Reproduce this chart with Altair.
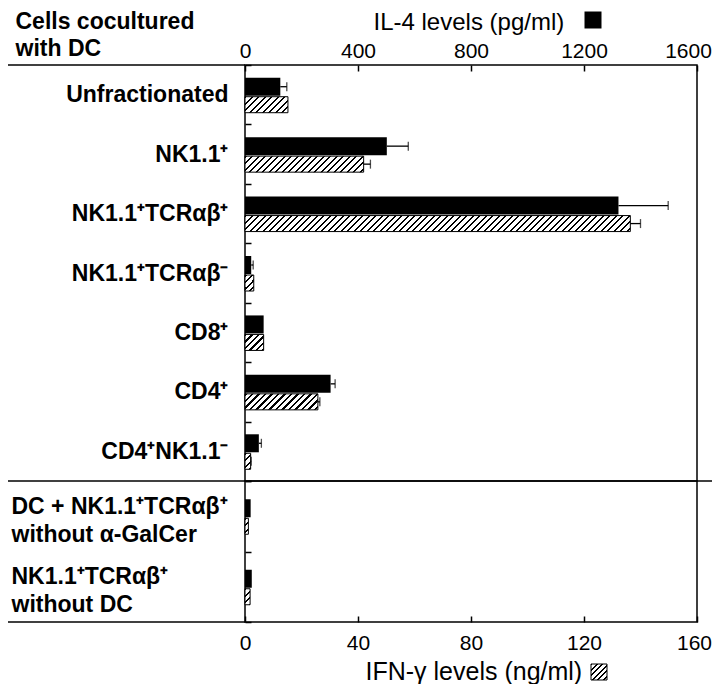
import altair as alt
import pandas as pd

# ---------------- data ----------------
cats_top = ["Unfractionated", "NK1.1⁺", "NK1.1⁺TCRαβ⁺", "NK1.1⁺TCRαβ⁻",
            "CD8⁺", "CD4⁺", "CD4⁺NK1.1⁻"]
cats_bot = ["DC + NK1.1⁺TCRαβ⁺\nwithout α-GalCer", "NK1.1⁺TCRαβ⁺\nwithout DC"]

il4_top = [125, 502, 1322, 22, 66, 303, 49]          # pg/ml (black bars)
il4_top_err = [23, 76, 176, 7, 0, 16, 9]
ifn_top = [15.2, 42.0, 136.4, 3.1, 6.6, 25.8, 2.0]   # ng/ml (hatched bars)
ifn_top_err = [0, 2.4, 3.6, 0, 0, 0.7, 0.2]

il4_bot = [20, 24]
il4_bot_err = [0, 0]
ifn_bot = [1.2, 1.8]
ifn_bot_err = [0, 0]

il4_ticks = [0, 400, 800, 1200, 1600]
ifn_ticks = [0, 40, 80, 120, 160]

# ---------------- layout constants ----------------
W = 452
H_TOP = 416
H_BOT = 141
PAD_L = 237
PAD_R = 15
PAD_T = 57
SVG_H = 676
FONT = "Liberation Sans"
LW = 1.5


def make_df(cats, il4, il4e, ifn, ifne):
    return pd.DataFrame({
        "idx": list(range(len(cats))),
        "cat": cats,
        "il4s": [v / 10 for v in il4],
        "il4_hi": [(v + e) / 10 for v, e in zip(il4, il4e)],
        "il4_err": il4e,
        "ifn": ifn,
        "ifn_hi": [v + e for v, e in zip(ifn, ifne)],
        "ifn_err": ifne,
    })


def hatch(w, h, period=6.5, thick=2.2):
    """Linear gradient that draws '/' stripes at 45 degrees on a w x h box."""
    w = max(w, 0.5)
    L = w + h
    n2 = w * w + h * h
    stops = []
    k = 0
    while k * period < L:
        a = k * period / L
        b = min((k * period + thick) / L, 1.0)
        nxt = min((k + 1) * period / L, 1.0)
        stops += [{"offset": a, "color": "black"},
                  {"offset": b, "color": "black"},
                  {"offset": b, "color": "white"},
                  {"offset": nxt, "color": "white"}]
        k += 1
    return {"gradient": "linear", "x1": 0, "y1": 0,
            "x2": L * w / n2, "y2": L * h / n2, "stops": stops}


xscale = alt.Scale(domain=[0, 160], nice=False, zero=True)

grid_props = dict(grid=True, gridDash=[6, 1000], gridColor="black",
                  gridWidth=LW, gridOpacity=1, ticks=False, tickSize=0,
                  domain=False)

xaxis_top = alt.Axis(
    orient="top", values=[v / 10 for v in il4_ticks],
    labelExpr="format(datum.value * 10, 'd')",
    title="IL-4 levels (pg/ml)", titleX=128, titleY=-36, titleAlign="left",
    titleBaseline="alphabetic", titleFontSize=24, titleFontWeight="normal",
    titleFont=FONT, titleColor="black",
    labelFont=FONT, labelFontSize=21, labelColor="black",
    labelBaseline="alphabetic", labelPadding=8, labelFlush=False,
    labelOverlap=False,
    labelOffset={"condition": {"test": "datum.value === 160", "value": -9}, "value": 0},
    **grid_props)

xaxis_bot = alt.Axis(
    orient="bottom", values=ifn_ticks,
    title="IFN-γ levels (ng/ml)", titleX=120, titleY=57, titleAlign="left",
    titleBaseline="alphabetic", titleFontSize=25, titleFontWeight="normal",
    titleFont=FONT, titleColor="black",
    labelFont=FONT, labelFontSize=21, labelColor="black",
    labelBaseline="alphabetic", labelPadding=27, labelFlush=False,
    labelOverlap=False,
    labelOffset={"condition": {"test": "datum.value === 160", "value": -3}, "value": 0},
    **grid_props)

yaxis_top = alt.Axis(
    title=["Cells cocultured", "with DC"], titleAngle=0, titleAlign="left",
    titleBaseline="alphabetic", titleX=-230, titleY=-37, titleFontSize=23,
    titleFontWeight="bold", titleFont=FONT, titleColor="black",
    titleLineHeight=27,
    labelFont=FONT, labelFontSize=23, labelFontWeight="bold",
    labelColor="black", labelPadding=17, labelLimit=400,
    labelExpr="split(datum.label, '\\n')", tickBand="extent",
    **grid_props)

yaxis_bot = alt.Axis(
    title=None, labelFont=FONT, labelFontSize=23, labelFontWeight="bold",
    labelColor="black", labelAlign="left", labelPadding=234, labelLimit=400,
    labelLineHeight=28, labelOffset=-3, labelBaseline="alphabetic",
    labelExpr="split(datum.label, '\\n')", tickBand="extent",
    **grid_props)


def panel(df, cats, h, xaxis, yaxis, deco_layers):
    y = alt.Y("cat:N", sort=cats,
              scale=alt.Scale(paddingInner=0, paddingOuter=0), axis=yaxis)
    base = alt.Chart(df)
    layers = []
    # black bars (IL-4)
    layers.append(base.mark_bar(height=18, yOffset=-8, color="black").encode(
        x=alt.X("il4s:Q", scale=xscale, axis=xaxis), y=y))
    # black error bars
    err_b = base.transform_filter(alt.datum.il4_err > 0)
    layers.append(err_b.mark_rule(yOffset=-8, color="black", strokeWidth=1.3).encode(
        x=alt.X("il4s:Q", scale=xscale, axis=xaxis), x2="il4_hi:Q", y=y))
    layers.append(err_b.mark_tick(yOffset=-8, color="black", size=9, thickness=1.3,
                                  orient="vertical").encode(
        x=alt.X("il4_hi:Q", scale=xscale, axis=xaxis), y=y))
    # hatched bars (IFN-gamma), one layer each so the stripes stay at 45 degrees
    for i, v in enumerate(df["ifn"]):
        w = v * W / 160.0
        layers.append(base.transform_filter(alt.datum.idx == i).mark_bar(
            height=16, yOffset=10, fill=hatch(w, 16), stroke="black",
            strokeWidth=1).encode(
            x=alt.X("ifn:Q", scale=xscale, axis=xaxis), y=y))
    err_h = base.transform_filter(alt.datum.ifn_err > 0)
    layers.append(err_h.mark_rule(yOffset=10, color="black", strokeWidth=1.3).encode(
        x=alt.X("ifn:Q", scale=xscale, axis=xaxis), x2="ifn_hi:Q", y=y))
    layers.append(err_h.mark_tick(yOffset=10, color="black", size=9, thickness=1.3,
                                  orient="vertical").encode(
        x=alt.X("ifn_hi:Q", scale=xscale, axis=xaxis), y=y))
    layers += deco_layers
    return alt.layer(*layers).properties(width=W, height=h)


one = pd.DataFrame({"k": [0]})


def hline(x1, x2, yv):
    return alt.Chart(one).mark_rule(color="black", strokeWidth=LW).encode(
        x=alt.value(x1), x2=alt.value(x2), y=alt.value(yv))


deco_top = [
    hline(-PAD_L, 0, 0),
    hline(-PAD_L, 0, H_TOP),
    hline(W, W + PAD_R, H_TOP),
    alt.Chart(one).mark_square(size=17 * 17, color="black", filled=True,
                               opacity=1).encode(x=alt.value(348), y=alt.value(-45)),
]
deco_bot = [
    hline(-PAD_L, 0, H_BOT),
    alt.Chart(one).mark_square(size=16 * 16, filled=True, fill=hatch(16, 16, 5.5, 1.8),
                               stroke="black", strokeWidth=1, opacity=1).encode(
        x=alt.value(354), y=alt.value(191)),
]

top = panel(make_df(cats_top, il4_top, il4_top_err, ifn_top, ifn_top_err),
            cats_top, H_TOP, xaxis_top, yaxis_top, deco_top)
bot = panel(make_df(cats_bot, il4_bot, il4_bot_err, ifn_bot, ifn_bot_err),
            cats_bot, H_BOT, xaxis_bot, yaxis_bot, deco_bot)

chart = alt.vconcat(top, bot, spacing=0, bounds="flush").properties(
    autosize=alt.AutoSizeParams(type="none"),
    padding={"left": PAD_L, "top": PAD_T, "right": PAD_R, "bottom": SVG_H - PAD_T},
).configure_view(stroke="black", strokeWidth=LW)

chart.save("out.html", embed_options={"renderer": "svg", "actions": False})
